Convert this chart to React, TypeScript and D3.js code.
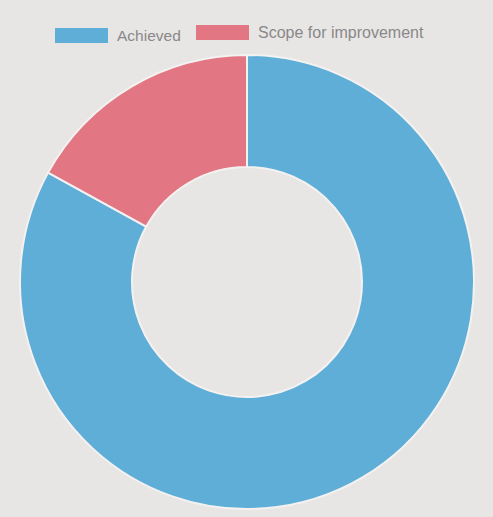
import React from "react";
import * as d3 from "d3";

const categories = ["Achieved", "Scope for improvement"];
const values = [83, 17];
const colors = ["#5eaed8", "#e27783"];

const W = 493;
const H = 517;

export default function App() {
  const cx = 247;
  const cy = 282;
  const outerR = 227;
  const innerR = 115;
  const pie = d3.pie<number>().sort(null).value((d) => d)(values);
  const arc = d3.arc<d3.PieArcDatum<number>>().innerRadius(innerR).outerRadius(outerR);

  const legendItems = [
    { x: 55, y: 28, tx: 117, fs: 15.5 },
    { x: 196, y: 25, tx: 258, fs: 16 },
  ];

  return (
    <svg
      width={W}
      height={H}
      style={{ position: "absolute", left: 0, top: 0, display: "block" }}
      fontFamily="Liberation Sans, Arial, sans-serif"
    >
      <rect x={0} y={0} width={W} height={H} fill="#e8e6e5" />
      <g transform={`translate(${cx},${cy})`}>
        {pie.map((p, i) => (
          <path key={i} d={arc(p) || ""} fill={colors[i]} stroke="#f4f2f1" strokeWidth={2} />
        ))}
      </g>
      {categories.map((c, i) => (
        <g key={c}>
          <rect x={legendItems[i].x} y={legendItems[i].y} width={53} height={15} fill={colors[i]} />
          <text
            x={legendItems[i].tx}
            y={legendItems[i].y + 7.5}
            dominantBaseline="central"
            fontSize={legendItems[i].fs}
            fill="#8a8888"
          >
            {c}
          </text>
        </g>
      ))}
    </svg>
  );
}
